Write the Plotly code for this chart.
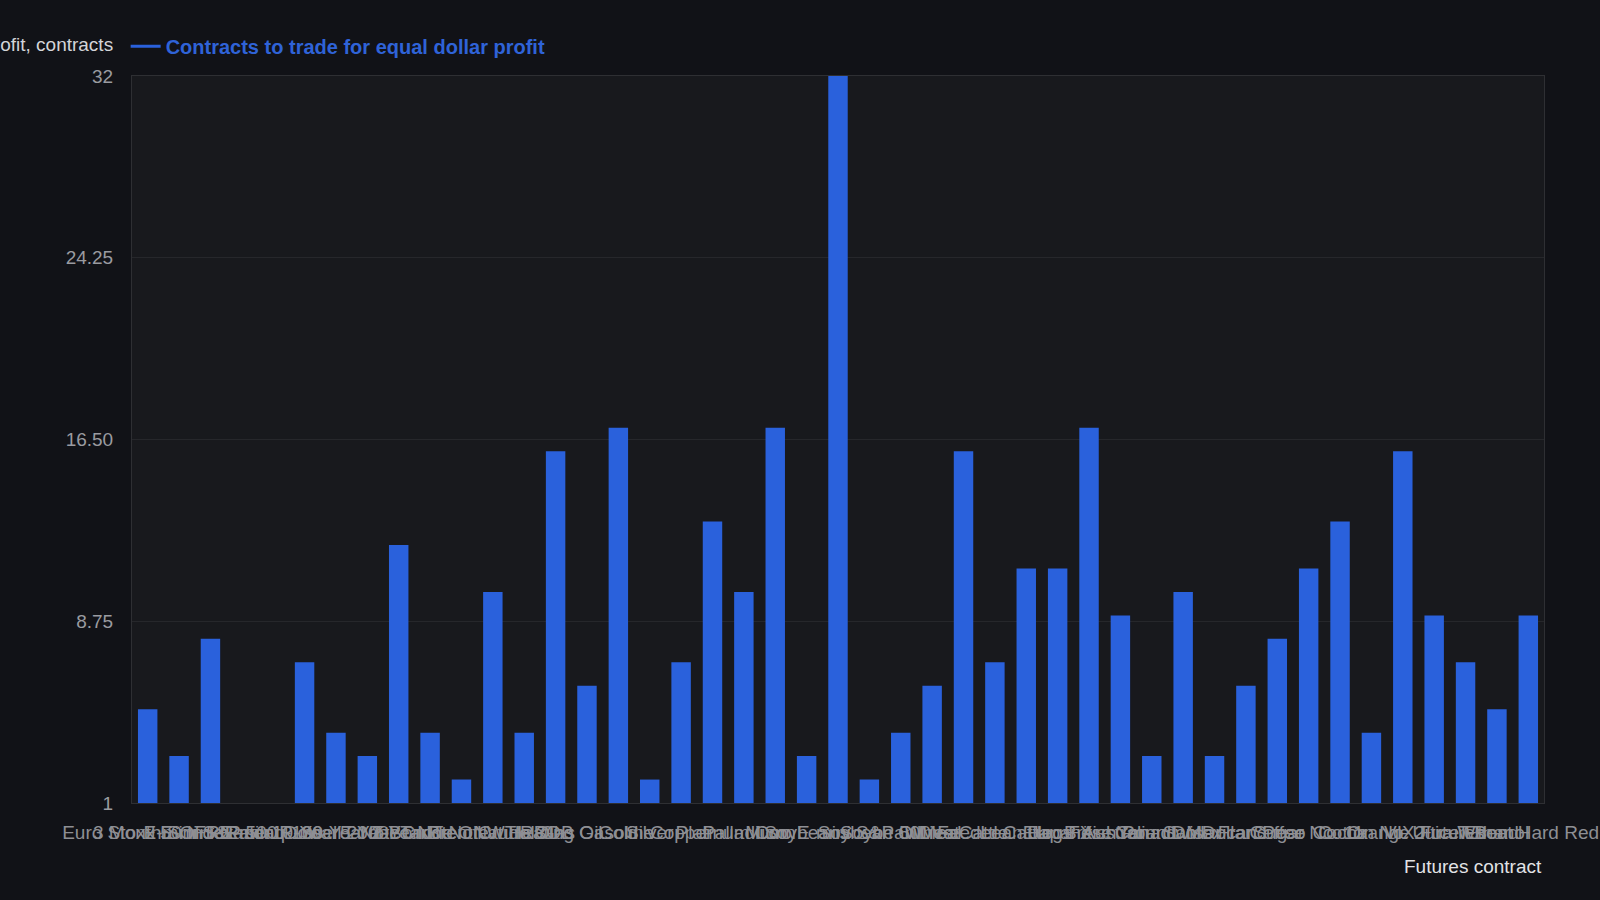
import plotly.graph_objects as go

# futures contracts (x categories) and contracts needed for equal dollar profit
contracts = [
    "Euro Stoxx 50 Index", "3 Month SOFR Rate", "E-mini S&P 500", "E-mini Nasdaq-100",
    "E-mini Dow", "E-mini Russell 2000", "10-Year T-Note", "30-Year T-Bond",
    "5-Year T-Note", "2-Year T-Note", "Crude Oil WTI", "Brent Crude Oil",
    "Natural Gas", "Heating Oil", "RBOB Gasoline", "Gold", "Silver", "Copper",
    "Platinum", "Palladium", "Corn", "Soybeans", "Micro E-mini S&P 500",
    "Soybean Oil", "Soybean Meal", "Wheat", "Live Cattle", "Feeder Cattle",
    "Lean Hogs", "Euro FX", "Japanese Yen", "British Pound", "Australian Dollar",
    "Canadian Dollar", "Swiss Franc", "Mexican Peso", "Coffee", "Sugar No. 11",
    "Cocoa", "Cotton No. 2", "Orange Juice", "VIX Futures", "Ultra T-Bond",
    "Ethanol", "Wheat Hard Red",
]
n_contracts = [
    5, 3, 8, 1, 1, 7, 4, 3, 12, 4, 2, 10, 4, 16, 6, 17, 2, 7, 13, 10,
    17, 3, 32, 2, 4, 6, 16, 7, 11, 11, 17, 9, 3, 10, 3, 6, 8, 11, 13, 4,
    16, 9, 7, 5, 9,
]
y_ticks = [1, 8.75, 16.5, 24.25, 32]
y_ticktext = ["1", "8.75", "16.50", "24.25", "32"]

BLUE = "#2a61dc"
FONT = "Liberation Sans"

fig = go.Figure()
fig.add_trace(go.Bar(x=contracts, y=n_contracts, marker_color=BLUE,
                     marker_line_width=0, showlegend=False,
                     name="Contracts to trade for equal dollar profit"))
# legend entry drawn as a line, like the original
fig.add_trace(go.Scatter(x=[None], y=[None], mode="lines",
                         line=dict(color=BLUE, width=3),
                         name="Contracts to trade for equal dollar profit"))

fig.update_layout(
    width=1600, height=900,
    paper_bgcolor="#111217", plot_bgcolor="#18191d",
    margin=dict(l=132, r=56, t=76, b=97),
    bargap=0.38,
    font=dict(family=FONT, size=19, color="#9a9ba0"),
    showlegend=True,
    legend=dict(orientation="h", x=-0.0045, xanchor="left", y=1.041, yanchor="middle",
                bgcolor="rgba(0,0,0,0)",
                font=dict(family=FONT, size=20, color="#2f63d8", weight="bold")),
)
fig.update_xaxes(type="category", tickmode="array", tickvals=contracts,
                 tickangle=0, showgrid=False, ticks="", ticklabelstandoff=12,
                 showline=True, linecolor="#2e2f33", mirror=True, automargin=False,
                 tickfont=dict(color="#8e8f94", size=19))
fig.update_yaxes(range=[1, 32], tickmode="array", tickvals=y_ticks, ticktext=y_ticktext,
                 showgrid=True, gridcolor="#26272b", zeroline=False, ticks="",
                 ticklabelstandoff=14, showline=True, linecolor="#2e2f33", mirror=True,
                 automargin=False, tickfont=dict(color="#9a9ba0", size=19))

fig.add_annotation(text="Contracts to trade for equal dollar profit, contracts",
                   xref="paper", yref="paper", x=-0.012, y=1.044,
                   xanchor="right", yanchor="middle", showarrow=False,
                   font=dict(family=FONT, size=19, color="#d4d5d9"))
fig.add_annotation(text="Futures contract", xref="paper", yref="paper",
                   x=1, y=-0.088, xanchor="right", yanchor="middle", showarrow=False,
                   font=dict(family=FONT, size=19, color="#e2e3e6"))

fig.write_html("out.html", config={"displayModeBar": False},
               post_script="document.body.style.margin='0';")
